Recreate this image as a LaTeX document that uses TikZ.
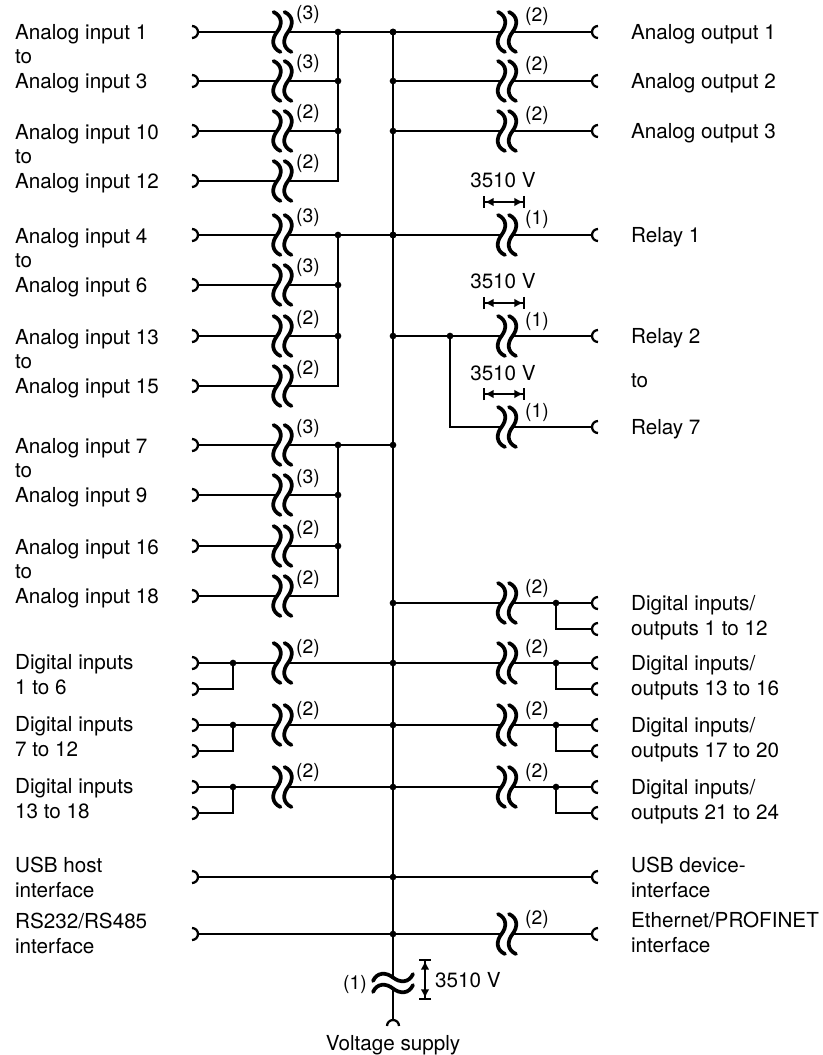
\documentclass[tikz,border=0pt]{standalone}
\usepackage{fontspec}
\setmainfont{TeX Gyre Heros}
\usetikzlibrary{arrows.meta}

\def\xe{198}
\def\xf{282.5}
\def\xj{338}
\def\xb{393}
\def\xg{507}
\def\xs{592}
\def\xd{233}
\def\xk{556}

\tikzset{
filtre/.pic={
  \coordinate (-e) at (-5.5,0);
  \coordinate (-s) at (5.5,0);
  \draw[onde] (-9,-20) .. controls (0,-16) and (0,-7) .. (-5.5,0) .. controls (-11,7) and (-11,16) .. (-2,20);
  \draw[onde] (2,-20) .. controls (11,-16) and (11,-7) .. (5.5,0) .. controls (0,7) and (0,16) .. (9,20);
},
filtreh/.pic={
  \coordinate (-n) at (0,-5.5);
  \coordinate (-s) at (0,5.5);
  \draw[onde] (-20,-2) .. controls (-16,-11) and (-7,-11) .. (0,-5.5) .. controls (7,0) and (16,0) .. (20,-9);
  \draw[onde] (-20,9) .. controls (-16,0) and (-7,0) .. (0,5.5) .. controls (7,11) and (16,11) .. (20,2);
},
prisee/.pic={\draw (-6,-6) .. controls (-2.7,-6) and (0,-3.3) .. (0,0) .. controls (0,3.3) and (-2.7,6) .. (-6,6);},
prises/.pic={\draw (6,-6) .. controls (2.7,-6) and (0,-3.3) .. (0,0) .. controls (0,3.3) and (2.7,6) .. (6,6);},
priseb/.pic={\draw (-6,6) .. controls (-6,2.7) and (-3.3,0) .. (0,0) .. controls (3.3,0) and (6,2.7) .. (6,6);}
}

\begin{document}
\begin{tikzpicture}[x=0.75pt,y=-0.75pt,line width=1.7pt]
\tikzstyle{texte}=[inner sep=0,align=left,font=\fontsize{15.5}{18.4}\selectfont]
\tikzstyle{num}=[inner sep=0,font=\fontsize{14.5}{16}\selectfont]
\tikzstyle{point}=[circle,fill,inner sep=0,minimum size=5pt]
\tikzstyle{onde}=[line width=2.8pt,line cap=round]
\tikzstyle{cote}=[line width=1.1pt,{Bar[width=9pt,line width=1.5pt]Latex[length=6.5pt,width=6.5pt]}-{Latex[length=6.5pt,width=6.5pt]Bar[width=9pt,line width=1.5pt]}]

\useasboundingbox (0,0) rectangle (822,1055);

% entrees analogiques
\foreach \g/\ya/\yb/\yc/\yd in {1/32/81/131/181,2/235/285/336/386,3/445/495/546/596}{
  \foreach \r/\y/\n in {1/\ya/3,2/\yb/3,3/\yc/2,4/\yd/2}{
    \coordinate (ae\g\r) at (\xe,\y);
    \pic at (ae\g\r) {prisee};
    \pic (fa\g\r) at (\xf,\y) {filtre};
    \node[num,anchor=base west] (na\g\r) at (295,\y-12) {(\n)};
    \coordinate (aj\g\r) at (\xj,\y);
    \draw (ae\g\r) -- (fa\g\r-e);
  }
  \coordinate (ba\g) at (\xb,\ya);
  \draw (fa\g1-s) -- (ba\g);
  \draw (fa\g2-s) -- (aj\g2);
  \draw (fa\g3-s) -- (aj\g3);
  \draw (fa\g4-s) -| (aj\g1);
  \foreach \r in {1,2,3} \node[point] at (aj\g\r) {};
  \node[point] at (ba\g) {};
}
\node[texte,anchor=base west] (ta1) at (14,88.5) {Analog input 1\\to\\Analog input 3};
\node[texte,anchor=base west] (ta2) at (14,188.5) {Analog input 10\\to\\Analog input 12};
\node[texte,anchor=base west] (ta3) at (14,292.5) {Analog input 4\\to\\Analog input 6};
\node[texte,anchor=base west] (ta4) at (14,393.5) {Analog input 13\\to\\Analog input 15};
\node[texte,anchor=base west] (ta5) at (14,502.5) {Analog input 7\\to\\Analog input 9};
\node[texte,anchor=base west] (ta6) at (14,603.5) {Analog input 16\\to\\Analog input 18};

% sorties analogiques
\foreach \r/\y in {1/32,2/81,3/131}{
  \coordinate (bo\r) at (\xb,\y);
  \pic (fo\r) at (\xg,\y) {filtre};
  \coordinate (so\r) at (\xs,\y);
  \pic at (so\r) {prises};
  \node[num,anchor=base west] (no\r) at (524,\y-10) {(2)};
  \node[texte,anchor=base west] (to\r) at (630,\y+7.5) {Analog output \r};
  \draw (bo\r) -- (fo\r-e);
  \draw (fo\r-s) -- (so\r);
  \node[point] at (bo\r) {};
}

% relais
\foreach \r/\y in {1/235,2/336,7/427}{
  \pic (fr\r) at (\xg,\y) {filtre};
  \coordinate (sr\r) at (\xs,\y);
  \pic at (sr\r) {prises};
  \node[num,anchor=base west] (nr\r) at (524,\y-10) {(1)};
  \coordinate (cg\r) at (483,\y-33);
  \coordinate (cd\r) at (525,\y-33);
  \draw[cote] (cg\r) -- (cd\r);
  \node[texte,anchor=base] (vr\r) at (503,\y-47) {3510 V};
  \draw (fr\r-s) -- (sr\r);
}
\coordinate (br1) at (\xb,235);
\coordinate (br2) at (\xb,336);
\coordinate (jr) at (450,336);
\draw (br1) -- (fr1-e);
\draw (br2) -- (fr2-e);
\draw (jr) |- (fr7-e);
\node[point] at (br1) {};
\node[point] at (br2) {};
\node[point] at (jr) {};
\node[texte,anchor=base west] (tr1) at (630,242.5) {Relay 1};
\node[texte,anchor=base west] (tr2) at (630,343.5) {Relay 2};
\node[texte,anchor=base west] (trt) at (630,387) {to};
\node[texte,anchor=base west] (tr7) at (630,434.5) {Relay 7};

% entrees/sorties numeriques
\foreach \r/\y/\t in {1/603/{1 to 12},2/663/{13 to 16},3/725/{17 to 20},4/787/{21 to 24}}{
  \coordinate (bd\r) at (\xb,\y);
  \pic (fd\r) at (\xg,\y) {filtre};
  \coordinate (jd\r) at (\xk,\y);
  \coordinate (sd\r) at (\xs,\y);
  \coordinate (sdd\r) at (\xs,\y+26);
  \pic at (sd\r) {prises};
  \pic at (sdd\r) {prises};
  \node[num,anchor=base west] (nd\r) at (524,\y-10) {(2)};
  \node[texte,anchor=base west] (td\r) at (630,\y+32) {Digital inputs/\\outputs \t};
  \draw (bd\r) -- (fd\r-e);
  \draw (fd\r-s) -- (sd\r);
  \draw (jd\r) |- (sdd\r);
  \node[point] at (bd\r) {};
  \node[point] at (jd\r) {};
}

% entrees numeriques
\foreach \r/\y/\t in {1/663/{1 to 6},2/725/{7 to 12},3/787/{13 to 18}}{
  \coordinate (de\r) at (\xe,\y);
  \coordinate (dee\r) at (\xe,\y+26);
  \pic at (de\r) {prisee};
  \pic at (dee\r) {prisee};
  \coordinate (dj\r) at (\xd,\y);
  \pic (fe\r) at (\xf,\y) {filtre};
  \coordinate (bi\r) at (\xb,\y);
  \node[num,anchor=base west] (ne\r) at (295,\y-10) {(2)};
  \node[texte,anchor=base west] (te\r) at (14,\y+31.5) {Digital inputs\\\t};
  \draw (de\r) -- (fe\r-e);
  \draw (dee\r) -| (dj\r);
  \draw (fe\r-s) -- (bi\r);
  \node[point] at (dj\r) {};
}

% interfaces
\coordinate (ue) at (\xe,877);
\coordinate (ub) at (\xb,877);
\coordinate (us) at (\xs,877);
\pic at (ue) {prisee};
\pic at (us) {prises};
\draw (ue) -- (us);
\node[point] at (ub) {};
\coordinate (re) at (\xe,934);
\coordinate (rb) at (\xb,934);
\coordinate (rs) at (\xs,934);
\pic (fre) at (\xg,934) {filtre};
\pic at (re) {prisee};
\pic at (rs) {prises};
\draw (re) -- (fre-e);
\draw (fre-s) -- (rs);
\node[point] at (rb) {};
\node[num,anchor=base west] (nre) at (524,924) {(2)};
\node[texte,anchor=base west] (tu1) at (14,897.5) {USB host\\interface};
\node[texte,anchor=base west] (tu2) at (14,953.5) {RS232/RS485\\interface};
\node[texte,anchor=base west] (tu3) at (630,897.5) {USB device-\\interface};
\node[texte,anchor=base west] (tu4) at (630,952.5) {Ethernet/PROFINET\\interface};

% bus et alimentation
\coordinate (bh) at (\xb,32);
\pic (fv) at (\xb,983) {filtreh};
\coordinate (alim) at (\xb,1020);
\pic at (alim) {priseb};
\draw (bh) -- (fv-n);
\draw (fv-s) -- (alim);
\node[num,anchor=base east] (nv) at (368,989) {(1)};
\coordinate (vh) at (425,959);
\coordinate (vb) at (425,1000);
\draw[cote] (vh) -- (vb);
\node[texte,anchor=base west] (tv) at (434,987) {3510 V};
\node[texte,anchor=base] (talim) at (393,1050) {Voltage supply};

\end{tikzpicture}
\end{document}
